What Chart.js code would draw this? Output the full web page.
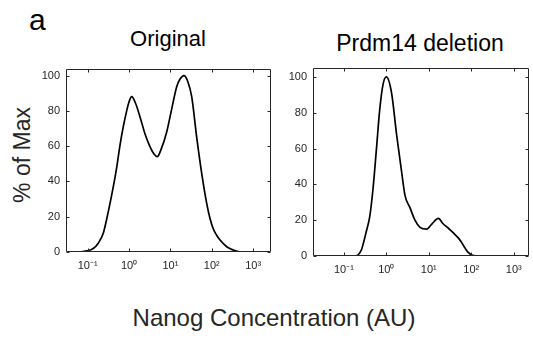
<!DOCTYPE html>
<html lang="en">
<head>
  <meta charset="UTF-8">
  <title>Nanog concentration - original vs Prdm14 deletion</title>
  <script src="https://cdn.jsdelivr.net/npm/chart.js"></script>
  <style>
    html, body { margin: 0; padding: 0; background: #fff; }
    body { width: 533px; height: 340px; position: relative; overflow: hidden;
           font-family: "Liberation Sans", Arial, Helvetica, sans-serif; color: #262626; }
    .txt { position: absolute; white-space: nowrap; line-height: 1; }
    #letter { left: 29px; top: 5px; font-size: 30px; color: #000; }
    #titleA { left: 168px; top: 28px; font-size: 22px; color: #000; transform: translateX(-50%); }
    #titleB { left: 420px; top: 32px; font-size: 23px; color: #000; transform: translateX(-50%); }
    #ylab { left: 22px; top: 155px; font-size: 23px; transform: translate(-50%, -50%) rotate(-90deg); }
    #xlab { left: 274px; top: 306px; font-size: 24px; transform: translateX(-50%); }
    #panelA { position: absolute; left: 0; top: 0; }
    #panelB { position: absolute; left: 270px; top: 0; }
  </style>
</head>
<body>
  <div class="txt" id="letter">a</div>
  <div class="txt" id="titleA">Original</div>
  <div class="txt" id="titleB">Prdm14 deletion</div>
  <div class="txt" id="ylab">% of Max</div>
  <div class="txt" id="xlab">Nanog Concentration (AU)</div>
  <canvas id="panelA" width="275" height="340"></canvas>
  <canvas id="panelB" width="263" height="340"></canvas>

  <script>
    // tick positions / labels shared by both panels
    const tickVals = [0.1, 1, 10, 100, 1000];
    const tickLabels = ['10⁻¹', '10⁰', '10¹', '10²', '10³'];
    const yTicks = [0, 20, 40, 60, 80, 100];

    // Original: concentration (AU) and % of max
    const origConc = [0.0586, 0.0951, 0.137, 0.181, 0.239, 0.311, 0.418, 0.505, 0.607, 0.728,
                      0.879, 1.0, 1.16, 1.40, 1.84, 2.43, 3.21, 4.02, 4.83, 5.93,
                      8.14, 10.3, 14.2, 17.1, 21.3, 25.9, 32.7, 43.2, 57.0, 75.3,
                      90.5, 109, 131, 158, 229, 330, 430, 577];
    const origPct  = [0, 0.6, 2, 5, 10.6, 22, 37, 48, 60.6, 71,
                      80, 85, 88, 85, 76.7, 67, 59.7, 55.5, 54, 58,
                      68, 79, 93.7, 98, 100, 97, 88, 65, 44.6, 27.6,
                      19, 13, 9.5, 6.8, 3, 1.1, 0.3, 0];

    // Prdm14 deletion
    const delConc = [0.18, 0.214, 0.259, 0.295, 0.34, 0.407, 0.488, 0.586, 0.701, 0.839,
                     1.0, 1.33, 1.74, 2.29, 2.74, 3.6, 4.72, 6.19, 8.91, 11.9,
                     16.8, 21.7, 28.9, 37.3, 49.8, 57.7, 71.8, 84.5, 103, 146];
    const delPct  = [0, 0.5, 3.4, 8, 14, 22, 38, 60, 82, 96,
                     100, 91, 68, 47, 34, 27, 20, 16, 15, 18,
                     21, 18, 15.5, 13, 10, 8, 4.3, 2, 0.5, 0];

    const tickFont = { family: '"Liberation Sans", Arial, sans-serif', size: 11 };
    const ink = '#262626';

    // matlab-ish box with inward ticks on all four sides
    const boxTicks = {
      id: 'boxTicks',
      afterDraw(chart) {
        const { ctx, chartArea: a, scales: { x, y } } = chart;
        const l = Math.round(a.left) + 0.5, r = Math.round(a.right) - 0.5;
        const t = Math.round(a.top) + 0.5, b = Math.round(a.bottom) - 0.5;
        ctx.save();
        ctx.strokeStyle = ink;
        ctx.lineWidth = 1;
        ctx.beginPath();
        tickVals.forEach(v => {
          const px = Math.round(x.getPixelForValue(v)) + 0.5;
          if (px < l || px > r) return;
          ctx.moveTo(px, b); ctx.lineTo(px, b - 3);
          ctx.moveTo(px, t); ctx.lineTo(px, t + 3);
        });
        yTicks.forEach(v => {
          const py = Math.round(y.getPixelForValue(v)) + 0.5;
          ctx.moveTo(l, py); ctx.lineTo(l + 3, py);
          ctx.moveTo(r, py); ctx.lineTo(r - 3, py);
        });
        ctx.rect(l, t, r - l, b - t);
        ctx.stroke();
        ctx.restore();
      }
    };

    function makePanel(id, conc, pct, xRange, yMax, pad, yWidth, xHeight, yPad) {
      new Chart(document.getElementById(id), {
        type: 'line',
        data: {
          datasets: [{
            data: conc.map((c, i) => ({ x: c, y: pct[i] })),
            borderColor: '#000',
            borderWidth: 1.7,
            pointRadius: 0,
            cubicInterpolationMode: 'monotone',
            fill: false
          }]
        },
        options: {
          responsive: false,
          animation: false,
          devicePixelRatio: 1,
          layout: { padding: pad },
          plugins: { legend: { display: false }, tooltip: { enabled: false } },
          scales: {
            x: {
              type: 'logarithmic',
              min: xRange[0],
              max: xRange[1],
              afterBuildTicks: s => { s.ticks = tickVals.map(v => ({ value: v })); },
              afterFit: s => { s.height = xHeight; },
              grid: { display: false, drawTicks: false },
              border: { display: false },
              ticks: {
                callback: v => tickLabels[tickVals.indexOf(v)] ?? '',
                autoSkip: false, maxRotation: 0, padding: 7,
                font: tickFont, color: ink
              }
            },
            y: {
              min: 0,
              max: yMax,
              afterBuildTicks: s => { s.ticks = yTicks.map(v => ({ value: v })); },
              afterFit: s => { s.width = yWidth; },
              grid: { display: false, drawTicks: false },
              border: { display: false },
              ticks: { padding: yPad, font: tickFont, color: ink }
            }
          }
        },
        plugins: [boxTicks]
      });
    }

    makePanel('panelA', origConc, origPct, [0.0301, 2690], 103.7,
              { left: 0, top: 69, right: 4, bottom: 0 }, 66, 88, 6);
    makePanel('panelB', delConc, delPct, [0.0188, 2280], 105,
              { left: 0, top: 68, right: 4, bottom: 0 }, 43, 84, 6);
  </script>
</body>
</html>
